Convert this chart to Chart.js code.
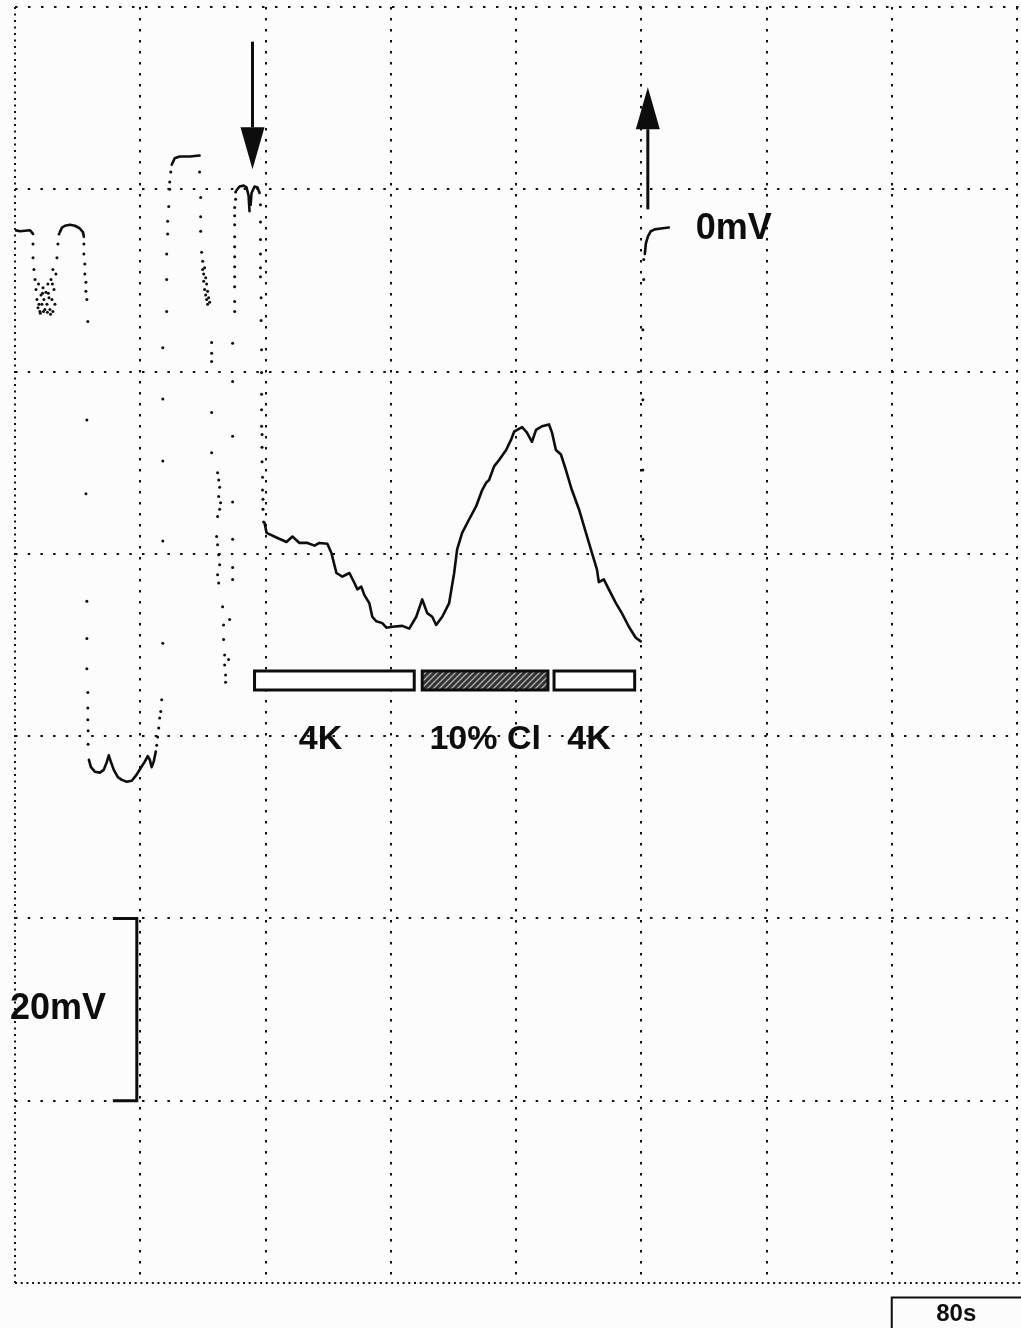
<!DOCTYPE html>
<html>
<head>
<meta charset="utf-8">
<script src="https://cdn.jsdelivr.net/npm/chart.js@4.4.1/dist/chart.umd.min.js"></script>
<style>
  html, body { margin: 0; padding: 0; background: #fcfcfc; }
  canvas { display: block; }
</style>
</head>
<body>
<canvas id="trace" width="1021" height="1328"></canvas>
<script>
// time in s (80 s per division), membrane potential in mV (20 mV per division)
const xMin = 0, xMax = 640;
const yMin = -115.6, yMax = 24.4;
const xTicks = [0, 80, 160, 240, 320, 400, 480, 560, 640];
const yTicks = [24.4, 4.4, -15.6, -35.6, -55.6, -75.6, -95.6, -115.6];

// continuous stretches of the recording [s, mV]
const seg1 = [[-1.9, 0], [3.2, -0.2], [9.6, -0.1], [11.5, -0.5]];
const seg2 = [[28.7, -0.3], [30.0, 0.2], [31.9, 0.4], [35.1, 0.5], [38.3, 0.4], [41.4, 0.1], [43.4, -0.3], [44.0, -0.8]];
const seg3 = [[47.2, -58.2], [48.5, -59.0], [51.0, -59.5], [54.2, -59.6], [56.7, -59.3], [58.7, -58.4], [59.9, -57.7],
  [61.2, -58.4], [63.1, -59.3], [65.7, -60.1], [68.2, -60.4], [71.4, -60.6], [74.6, -60.5], [77.8, -59.8],
  [80.3, -59.1], [82.9, -58.4], [84.8, -57.8], [86.1, -58.2], [87.3, -59.0], [88.6, -58.4], [89.9, -57.3]];
const seg4 = [[100.1, 7.1], [102.0, 7.8], [105.2, 8.0], [111.6, 8.0], [117.9, 8.1]];
const seg5 = [[141.5, 4.3], [143.4, 4.7], [146.0, 4.8], [147.9, 4.6], [149.2, 3.7], [149.8, 2.0]];
const seg6 = [[150.5, 2.7], [151.1, 4.0], [153.0, 4.7], [154.9, 4.6], [156.2, 4.0]];
const seg7 = [[159.4, -32.2], [160.7, -33.3], [167.0, -33.8], [173.4, -34.3], [177.2, -33.7], [181.7, -34.4],
  [186.8, -34.4], [191.3, -34.7], [194.4, -34.4], [199.5, -34.5], [202.1, -35.5], [205.3, -37.7], [209.1, -38.1],
  [213.6, -37.7], [216.8, -38.8], [218.7, -39.5], [221.2, -39.2], [223.1, -40.1], [226.3, -41.0], [228.2, -42.5],
  [230.8, -43.0], [234.6, -43.2], [237.2, -43.7], [241.0, -43.6], [247.4, -43.5], [251.8, -43.8], [256.3, -42.5],
  [260.1, -40.6], [263.3, -42.1], [266.5, -42.5], [269.0, -43.4], [272.9, -42.5], [277.3, -41.0], [280.5, -37.7],
  [282.4, -35.1], [285.6, -33.3], [290.1, -31.8], [294.5, -30.4], [298.4, -28.6], [300.9, -27.8], [302.8, -27.5],
  [306.0, -26.0], [309.2, -25.3], [313.7, -24.2], [316.8, -23.1], [318.8, -22.2], [323.9, -21.7], [327.0, -22.3],
  [330.2, -23.3], [332.8, -22.0], [336.6, -21.6], [341.1, -21.4], [343.0, -22.3], [345.5, -24.2], [348.7, -24.7],
  [351.9, -26.4], [355.7, -28.6], [360.2, -30.7], [364.7, -33.3], [368.5, -35.5], [371.7, -37.3], [372.9, -38.7],
  [376.1, -38.4], [379.3, -39.5], [383.8, -41.0], [387.6, -42.1], [392.1, -43.6], [396.5, -44.8], [399.7, -45.2]];
const seg8 = [[402.3, -2.7], [402.9, -1.6], [404.2, -0.8], [406.1, -0.2], [408.6, 0.0], [412.5, 0.1], [417.6, 0.2]];

// sparse samples on the fast transitions [s, mV]
const fastSamples = [
  [11.5, -1.6], [11.5, -3.1], [12.1, -4.4], [12.8, -5.5], [13.4, -6.6], [14.0, -7.7], [14.7, -8.6], [15.9, -9.0],
  [16.6, -7.2], [17.2, -8.2], [17.9, -6.4], [18.5, -7.7], [19.1, -8.8], [19.8, -6.9], [20.4, -8.2], [21.0, -6.0],
  [21.7, -7.5], [22.3, -8.8], [23.0, -5.5], [23.6, -7.7], [24.2, -4.4], [24.9, -6.6], [25.5, -8.2], [26.1, -4.9],
  [26.8, -3.1], [27.4, -1.6], [28.1, -0.5], [15.3, -8.2], [16.2, -9.2], [18.2, -9.0], [20.7, -9.1], [22.7, -9.3],
  [24.2, -9.0], [17.6, -7.0], [21.3, -7.0], [15.0, -6.0], [23.9, -6.0],
  [44.0, -1.6], [44.0, -2.7], [44.6, -3.8], [44.6, -4.9], [45.3, -5.8], [45.3, -6.8], [45.9, -7.7], [46.5, -10.1],
  [45.9, -20.9], [45.3, -29.0], [45.9, -40.8], [45.9, -44.9], [45.9, -48.2], [46.5, -50.8], [46.5, -52.5],
  [46.5, -53.8], [46.7, -55.0], [46.7, -56.5],
  [90.5, -56.6], [91.1, -55.7], [91.8, -54.7], [92.4, -53.6], [93.1, -52.9], [93.7, -51.6], [94.4, -45.4],
  [94.4, -34.2], [94.4, -25.4], [94.4, -18.6], [94.4, -13.0], [96.9, -9.0], [96.9, -5.5], [96.9, -2.7],
  [97.5, -0.5], [97.5, 0.9], [98.2, 2.5], [98.8, 4.4], [98.8, 5.2], [99.5, 6.3],
  [117.9, 6.3], [118.6, 3.5], [118.6, 1.4], [118.6, -0.2], [119.2, -2.5], [119.9, -3.5], [119.9, -4.4],
  [120.5, -4.9], [120.5, -5.7], [121.1, -4.2], [121.1, -6.6], [121.8, -5.3], [121.8, -7.2], [122.4, -6.0],
  [122.4, -7.7], [123.0, -6.8], [123.0, -8.2], [123.7, -7.5], [124.3, -8.0], [125.6, -12.4], [125.6, -13.6],
  [125.6, -14.5], [125.6, -20.1], [125.6, -24.5], [129.4, -26.7], [130.1, -27.5], [130.7, -28.3], [130.1, -29.3],
  [131.3, -30.0], [130.7, -30.7], [129.4, -31.5], [128.8, -33.7], [129.4, -34.6], [130.1, -35.7], [130.7, -36.8],
  [129.4, -37.9], [130.1, -38.8], [132.6, -41.4], [133.2, -43.4], [133.2, -45.0], [133.9, -46.7], [133.9, -47.8],
  [134.5, -48.9], [134.5, -49.7],
  [136.4, -47.2], [137.1, -42.8], [139.0, -38.4], [139.0, -37.1], [139.0, -34.0], [139.0, -29.9], [139.0, -22.7],
  [139.0, -16.7], [139.0, -12.5], [140.3, -9.0], [140.3, -7.9], [140.3, -6.3], [140.3, -5.2], [140.3, -4.1],
  [140.3, -3.0], [140.3, -1.9], [140.3, -0.8], [140.3, 0.5], [140.3, 1.5], [140.3, 2.4], [140.9, 3.3], [140.9, 4.1],
  [156.8, 2.7], [156.8, 0.8], [156.8, -1.1], [156.8, -2.7], [156.8, -4.2], [156.8, -5.2], [157.2, -7.5],
  [157.2, -10.0], [157.5, -13.2], [157.5, -15.7], [157.5, -18.1], [157.5, -19.8], [157.5, -21.6], [157.8, -22.5],
  [157.8, -23.9], [157.8, -25.5], [158.1, -27.2], [158.1, -28.6], [158.4, -29.6], [158.4, -30.7], [158.8, -32.1],
  [401.0, -40.6], [401.0, -34.0], [401.0, -26.4], [401.0, -18.7], [401.0, -11.0], [401.6, -5.5], [401.6, -3.3]
];

// bath solutions
const solutionNames = ['4K', '10% Cl', '4K'];
const solutionOn = [153.0, 260.1, 344.3];
const solutionOff = [255.0, 340.4, 395.8];
const solutionLabelAt = [195.1, 300.3, 366.6];

// arrows: time, tail and tip in mV
const arrowTimes = [151.7, 404.2];
const arrowTails = [20.6, 2.2];
const arrowTips = [6.6, 15.6];

const INK = '#0d0d0d';
const FONT = '"Liberation Sans", Arial, sans-serif';

function hatchPattern(ctx) {
  const c = document.createElement('canvas');
  c.width = 6; c.height = 6;
  const p = c.getContext('2d');
  p.fillStyle = '#333';
  p.fillRect(0, 0, 6, 6);
  p.strokeStyle = '#b0b0b0';
  p.lineWidth = 1.3;
  p.beginPath();
  p.moveTo(-1, 7); p.lineTo(7, -1);
  p.moveTo(-4, 4); p.lineTo(4, -4);
  p.moveTo(2, 10); p.lineTo(10, 2);
  p.stroke();
  return ctx.createPattern(c, 'repeat');
}

const paperPlugin = {
  id: 'paper',
  beforeDraw(chart) {
    const { ctx, width, height } = chart;
    ctx.save();
    ctx.fillStyle = '#fcfcfc';
    ctx.fillRect(0, 0, width, height);
    ctx.restore();
  }
};

// dotted oscilloscope graticule
const gridPlugin = {
  id: 'dottedGrid',
  beforeDatasetsDraw(chart) {
    const { ctx, chartArea: a, scales: { x, y }, width } = chart;
    const line = (x1, y1, x2, y2, dash) => {
      ctx.setLineDash(dash);
      ctx.beginPath();
      ctx.moveTo(x1, y1);
      ctx.lineTo(x2, y2);
      ctx.stroke();
    };
    ctx.save();
    ctx.strokeStyle = '#111';
    ctx.lineWidth = 2;
    xTicks.forEach((t, i) => {
      const px = Math.round(x.getPixelForValue(t));
      line(px, a.top, px, a.bottom, i === 0 ? [2, 4.5] : [2.5, 8.5]);
    });
    yTicks.forEach((t, i) => {
      const py = Math.round(y.getPixelForValue(t));
      if (i === 0) line(a.left, py, width, py, [2.5, 10.5]);
      else if (i === yTicks.length - 1) line(a.left, py, width, py, [2, 3.7]);
      else line(a.left, py, a.right, py, [2.5, 10.2]);
    });
    ctx.restore();
  }
};

const labelsPlugin = {
  id: 'labels',
  afterDatasetsDraw(chart) {
    const { ctx, scales: { x, y } } = chart;
    ctx.save();
    ctx.fillStyle = INK;
    ctx.strokeStyle = INK;

    // solution bars
    const top = Math.round(y.getPixelForValue(-48.5));
    const bottom = Math.round(y.getPixelForValue(-50.5));
    const hatch = hatchPattern(ctx);
    ctx.lineWidth = 3;
    ctx.font = 'bold 34px ' + FONT;
    ctx.textAlign = 'center';
    ctx.textBaseline = 'middle';
    solutionNames.forEach((name, i) => {
      const x1 = x.getPixelForValue(solutionOn[i]);
      const x2 = x.getPixelForValue(solutionOff[i]);
      ctx.fillStyle = name === '4K' ? '#fff' : hatch;
      ctx.fillRect(x1, top, x2 - x1, bottom - top);
      ctx.strokeRect(x1, top, x2 - x1, bottom - top);
      ctx.fillStyle = INK;
      ctx.fillText(name, x.getPixelForValue(solutionLabelAt[i]), y.getPixelForValue(-56.0));
    });

    // arrows
    arrowTimes.forEach((t, i) => {
      const px = x.getPixelForValue(t);
      const tail = y.getPixelForValue(arrowTails[i]);
      const tip = y.getPixelForValue(arrowTips[i]);
      const dir = Math.sign(tip - tail);
      const base = tip - dir * 42;
      ctx.lineWidth = 3;
      ctx.beginPath();
      ctx.moveTo(px, tail);
      ctx.lineTo(px, base);
      ctx.stroke();
      ctx.beginPath();
      ctx.moveTo(px - 12, base);
      ctx.lineTo(px + 12, base);
      ctx.lineTo(px, tip);
      ctx.closePath();
      ctx.fill();
    });

    // potential reference and 20 mV calibration
    ctx.textAlign = 'left';
    ctx.font = 'bold 36px ' + FONT;
    ctx.fillText('0mV', x.getPixelForValue(434.8), y.getPixelForValue(0));
    ctx.fillText('20mV', x.getPixelForValue(-3.2), y.getPixelForValue(-85.6));
    const bx = x.getPixelForValue(77.8);
    const bl = x.getPixelForValue(62.5);
    const b1 = y.getPixelForValue(-75.6);
    const b2 = y.getPixelForValue(-95.6);
    ctx.lineWidth = 3;
    ctx.beginPath();
    ctx.moveTo(bl, b1);
    ctx.lineTo(bx, b1);
    ctx.lineTo(bx, b2);
    ctx.lineTo(bl, b2);
    ctx.stroke();
    ctx.restore();
  },
  afterDraw(chart) {
    const { ctx, scales: { x, y }, width, height } = chart;
    // 80 s time calibration under the graticule
    ctx.save();
    ctx.strokeStyle = INK;
    ctx.fillStyle = INK;
    ctx.lineWidth = 2;
    const sx = x.getPixelForValue(560);
    const sy = y.getPixelForValue(-117.2);
    ctx.beginPath();
    ctx.moveTo(width, sy);
    ctx.lineTo(sx, sy);
    ctx.lineTo(sx, height);
    ctx.stroke();
    ctx.font = 'bold 24px ' + FONT;
    ctx.textAlign = 'center';
    ctx.textBaseline = 'middle';
    ctx.fillText('80s', x.getPixelForValue(601.2), y.getPixelForValue(-119.0));
    ctx.restore();
  }
};

const toPoints = seg => seg.map(([t, v]) => ({ x: t, y: v }));
const segments = [seg1, seg2, seg3, seg4, seg5, seg6, seg7, seg8];

new Chart(document.getElementById('trace'), {
  type: 'scatter',
  data: {
    datasets: [
      ...segments.map(seg => ({
        data: toPoints(seg),
        showLine: true,
        borderColor: INK,
        borderWidth: 2.6,
        borderJoinStyle: 'round',
        borderCapStyle: 'round',
        pointRadius: 0,
        tension: 0,
      })),
      {
        data: toPoints(fastSamples),
        showLine: false,
        pointRadius: 1.5,
        pointBackgroundColor: INK,
        pointBorderWidth: 0,
      },
    ],
  },
  options: {
    responsive: false,
    animation: false,
    layout: { padding: { left: 15, top: 7, right: 2, bottom: 45 } },
    plugins: { legend: { display: false }, tooltip: { enabled: false } },
    scales: {
      x: { type: 'linear', min: xMin, max: xMax, display: false },
      y: { type: 'linear', min: yMin, max: yMax, display: false },
    },
  },
  plugins: [paperPlugin, gridPlugin, labelsPlugin],
});
</script>
</body>
</html>
